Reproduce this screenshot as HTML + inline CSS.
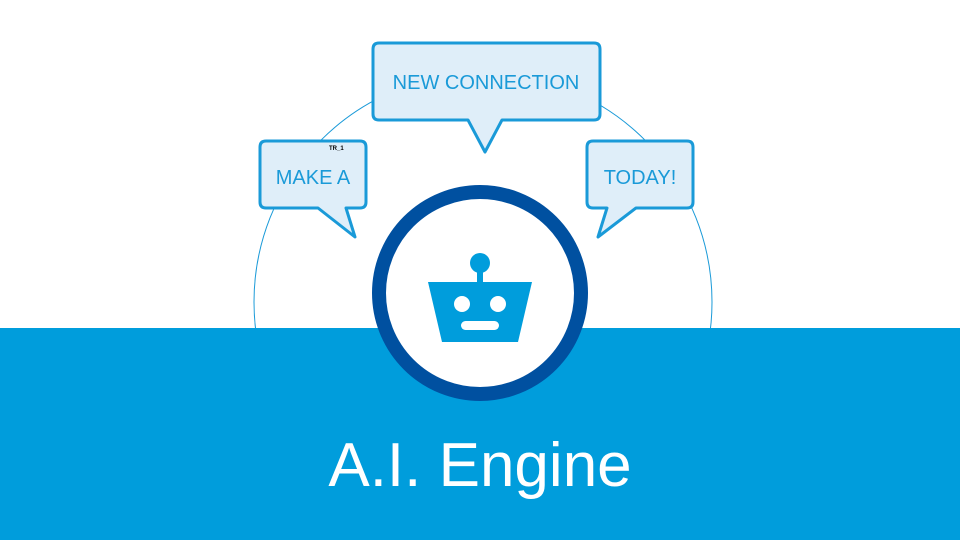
<!DOCTYPE html>
<html><head><style>
body{margin:0;width:960px;height:540px;overflow:hidden;background:#fff;font-family:"Liberation Sans",sans-serif}
</style></head><body>
<svg width="960" height="540" viewBox="0 0 960 540" xmlns="http://www.w3.org/2000/svg">
<circle cx="483" cy="302" r="229" fill="none" stroke="#1a9ad8" stroke-width="1"/>
<rect x="0" y="328" width="960" height="212" fill="#009ddc"/>
<g fill="#dfeef9" stroke="#1a9ad8" stroke-width="3" stroke-linejoin="round">
<path d="M266 141 H360 Q366 141 366 147 V202 Q366 208 360 208 H346 L355 237 L318 208 H266 Q260 208 260 202 V147 Q260 141 266 141 Z"/>
<path d="M379 43 H594 Q600 43 600 49 V114 Q600 120 594 120 H502 L485 152 L468 120 H379 Q373 120 373 114 V49 Q373 43 379 43 Z"/>
<path d="M593 141 H687 Q693 141 693 147 V202 Q693 208 687 208 H636 L598 237 L607 208 H593 Q587 208 587 202 V147 Q587 141 593 141 Z"/>
</g>
<g fill="#1a9ad8" font-family="Liberation Sans, sans-serif" font-size="20" text-anchor="middle">
<text x="313" y="184">MAKE A</text>
<text x="486" y="89">NEW CONNECTION</text>
<text x="640" y="184">TODAY!</text>
</g>
<text x="329" y="150" font-size="6" fill="#000" font-weight="bold">TR_1</text>
<circle cx="480" cy="293" r="101" fill="#fff" stroke="#0050a0" stroke-width="14"/>
<circle cx="480" cy="263" r="10" fill="#009ddc"/>
<rect x="477" y="268" width="6" height="16" fill="#009ddc"/>
<path d="M428 282 H532 L518 342 H442 Z" fill="#009ddc"/>
<circle cx="462" cy="304" r="8" fill="#fff"/>
<circle cx="498" cy="304" r="8" fill="#fff"/>
<rect x="461" y="321" width="38" height="9" rx="4.5" fill="#fff"/>
<text x="480" y="486" font-size="62" fill="#fff" text-anchor="middle" font-family="Liberation Sans, sans-serif">A.I. Engine</text>
</svg>
</body></html>
